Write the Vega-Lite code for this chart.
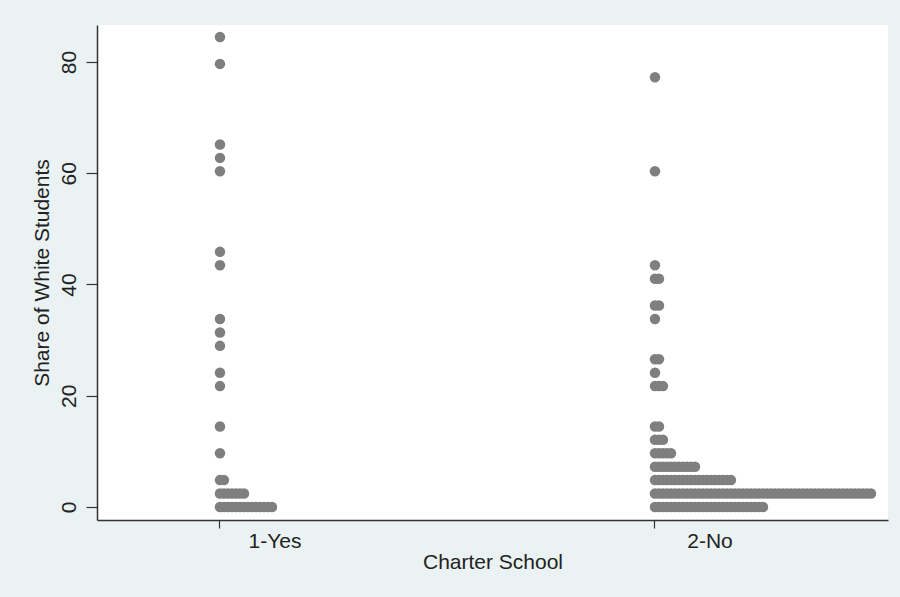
{
  "$schema": "https://vega.github.io/schema/vega-lite/v6.json",
  "width": 791,
  "height": 495,
  "autosize": {"type": "none"},
  "padding": {"left": 97, "top": 25, "right": 12, "bottom": 77},
  "background": "#EAF2F3",
  "config": {"view": {"fill": "white", "stroke": null}, "font": "Liberation Sans"},
  "data": {"values": [
    {"group":"1-Yes","share":0},{"group":"1-Yes","share":0},{"group":"1-Yes","share":0},{"group":"1-Yes","share":0},{"group":"1-Yes","share":0},{"group":"1-Yes","share":0},{"group":"1-Yes","share":0},
    {"group":"1-Yes","share":0},{"group":"1-Yes","share":0},{"group":"1-Yes","share":0},{"group":"1-Yes","share":0},{"group":"1-Yes","share":0},{"group":"1-Yes","share":0},{"group":"1-Yes","share":0},
    {"group":"1-Yes","share":2.41},{"group":"1-Yes","share":2.41},{"group":"1-Yes","share":2.41},{"group":"1-Yes","share":2.41},{"group":"1-Yes","share":2.41},{"group":"1-Yes","share":2.41},{"group":"1-Yes","share":2.41},
    {"group":"1-Yes","share":4.83},{"group":"1-Yes","share":4.83},
    {"group":"1-Yes","share":9.66},{"group":"1-Yes","share":14.48},{"group":"1-Yes","share":21.73},{"group":"1-Yes","share":24.14},
    {"group":"1-Yes","share":28.97},{"group":"1-Yes","share":31.38},{"group":"1-Yes","share":33.8},{"group":"1-Yes","share":43.45},
    {"group":"1-Yes","share":45.87},{"group":"1-Yes","share":60.35},{"group":"1-Yes","share":62.76},{"group":"1-Yes","share":65.18},
    {"group":"1-Yes","share":79.66},{"group":"1-Yes","share":84.49},
    {"group":"2-No","share":0},{"group":"2-No","share":0},{"group":"2-No","share":0},{"group":"2-No","share":0},{"group":"2-No","share":0},{"group":"2-No","share":0},{"group":"2-No","share":0},
    {"group":"2-No","share":0},{"group":"2-No","share":0},{"group":"2-No","share":0},{"group":"2-No","share":0},{"group":"2-No","share":0},{"group":"2-No","share":0},{"group":"2-No","share":0},
    {"group":"2-No","share":0},{"group":"2-No","share":0},{"group":"2-No","share":0},{"group":"2-No","share":0},{"group":"2-No","share":0},{"group":"2-No","share":0},{"group":"2-No","share":0},
    {"group":"2-No","share":0},{"group":"2-No","share":0},{"group":"2-No","share":0},{"group":"2-No","share":0},{"group":"2-No","share":0},{"group":"2-No","share":0},{"group":"2-No","share":0},
    {"group":"2-No","share":2.41},{"group":"2-No","share":2.41},{"group":"2-No","share":2.41},{"group":"2-No","share":2.41},{"group":"2-No","share":2.41},
    {"group":"2-No","share":2.41},{"group":"2-No","share":2.41},{"group":"2-No","share":2.41},{"group":"2-No","share":2.41},{"group":"2-No","share":2.41},
    {"group":"2-No","share":2.41},{"group":"2-No","share":2.41},{"group":"2-No","share":2.41},{"group":"2-No","share":2.41},{"group":"2-No","share":2.41},
    {"group":"2-No","share":2.41},{"group":"2-No","share":2.41},{"group":"2-No","share":2.41},{"group":"2-No","share":2.41},{"group":"2-No","share":2.41},
    {"group":"2-No","share":2.41},{"group":"2-No","share":2.41},{"group":"2-No","share":2.41},{"group":"2-No","share":2.41},{"group":"2-No","share":2.41},
    {"group":"2-No","share":2.41},{"group":"2-No","share":2.41},{"group":"2-No","share":2.41},{"group":"2-No","share":2.41},{"group":"2-No","share":2.41},
    {"group":"2-No","share":2.41},{"group":"2-No","share":2.41},{"group":"2-No","share":2.41},{"group":"2-No","share":2.41},{"group":"2-No","share":2.41},
    {"group":"2-No","share":2.41},{"group":"2-No","share":2.41},{"group":"2-No","share":2.41},{"group":"2-No","share":2.41},{"group":"2-No","share":2.41},
    {"group":"2-No","share":2.41},{"group":"2-No","share":2.41},{"group":"2-No","share":2.41},{"group":"2-No","share":2.41},{"group":"2-No","share":2.41},
    {"group":"2-No","share":2.41},{"group":"2-No","share":2.41},{"group":"2-No","share":2.41},{"group":"2-No","share":2.41},{"group":"2-No","share":2.41},
    {"group":"2-No","share":2.41},{"group":"2-No","share":2.41},{"group":"2-No","share":2.41},{"group":"2-No","share":2.41},{"group":"2-No","share":2.41},
    {"group":"2-No","share":4.83},{"group":"2-No","share":4.83},{"group":"2-No","share":4.83},{"group":"2-No","share":4.83},{"group":"2-No","share":4.83},
    {"group":"2-No","share":4.83},{"group":"2-No","share":4.83},{"group":"2-No","share":4.83},{"group":"2-No","share":4.83},{"group":"2-No","share":4.83},
    {"group":"2-No","share":4.83},{"group":"2-No","share":4.83},{"group":"2-No","share":4.83},{"group":"2-No","share":4.83},{"group":"2-No","share":4.83},
    {"group":"2-No","share":4.83},{"group":"2-No","share":4.83},{"group":"2-No","share":4.83},{"group":"2-No","share":4.83},{"group":"2-No","share":4.83},
    {"group":"2-No","share":7.24},{"group":"2-No","share":7.24},{"group":"2-No","share":7.24},{"group":"2-No","share":7.24},{"group":"2-No","share":7.24},
    {"group":"2-No","share":7.24},{"group":"2-No","share":7.24},{"group":"2-No","share":7.24},{"group":"2-No","share":7.24},{"group":"2-No","share":7.24},{"group":"2-No","share":7.24},
    {"group":"2-No","share":9.66},{"group":"2-No","share":9.66},{"group":"2-No","share":9.66},{"group":"2-No","share":9.66},{"group":"2-No","share":9.66},
    {"group":"2-No","share":12.07},{"group":"2-No","share":12.07},{"group":"2-No","share":12.07},
    {"group":"2-No","share":14.48},{"group":"2-No","share":14.48},
    {"group":"2-No","share":21.73},{"group":"2-No","share":21.73},{"group":"2-No","share":21.73},
    {"group":"2-No","share":24.14},
    {"group":"2-No","share":26.55},{"group":"2-No","share":26.55},
    {"group":"2-No","share":33.8},
    {"group":"2-No","share":36.21},{"group":"2-No","share":36.21},
    {"group":"2-No","share":41.04},{"group":"2-No","share":41.04},
    {"group":"2-No","share":43.45},
    {"group":"2-No","share":60.35},
    {"group":"2-No","share":77.25}
  ]},
  "transform": [
    {"window": [{"op": "row_number", "as": "idx"}], "groupby": ["group", "share"]}
  ],
  "mark": {"type": "circle", "size": 110, "color": "#7f7f7f", "opacity": 1},
  "encoding": {
    "x": {
      "field": "group", "type": "nominal",
      "scale": {"domain": ["1-Yes", "2-No"], "paddingInner": 0.747, "paddingOuter": 0.2827},
      "axis": {
        "title": "Charter School", "bandPosition": 0, "labelAngle": 0,
        "tickSize": 8, "labelPadding": 2, "titlePadding": 0,
        "domainColor": "#333333", "tickColor": "#333333", "domainWidth": 1.5, "tickWidth": 1.2,
        "labelColor": "#222222", "titleColor": "#222222",
        "labelFontSize": 21, "titleFontSize": 21, "titleFontWeight": "normal", "grid": false
      }
    },
    "xOffset": {"field": "idx", "type": "quantitative", "scale": {"domain": [1, 56], "range": [0, 220]}},
    "y": {
      "field": "share", "type": "quantitative",
      "scale": {"domain": [-2.34, 86.65], "nice": false, "zero": false},
      "axis": {
        "title": "Share of White Students", "values": [0, 20, 40, 60, 80],
        "labelAngle": -90, "labelAlign": "center", "labelBaseline": "alphabetic",
        "tickSize": 11, "labelPadding": 11, "titlePadding": 6,
        "domainColor": "#333333", "tickColor": "#333333", "domainWidth": 1.5, "tickWidth": 1.2,
        "labelColor": "#222222", "titleColor": "#222222",
        "labelFontSize": 21, "titleFontSize": 21, "titleFontWeight": "normal", "grid": false
      }
    }
  }
}
